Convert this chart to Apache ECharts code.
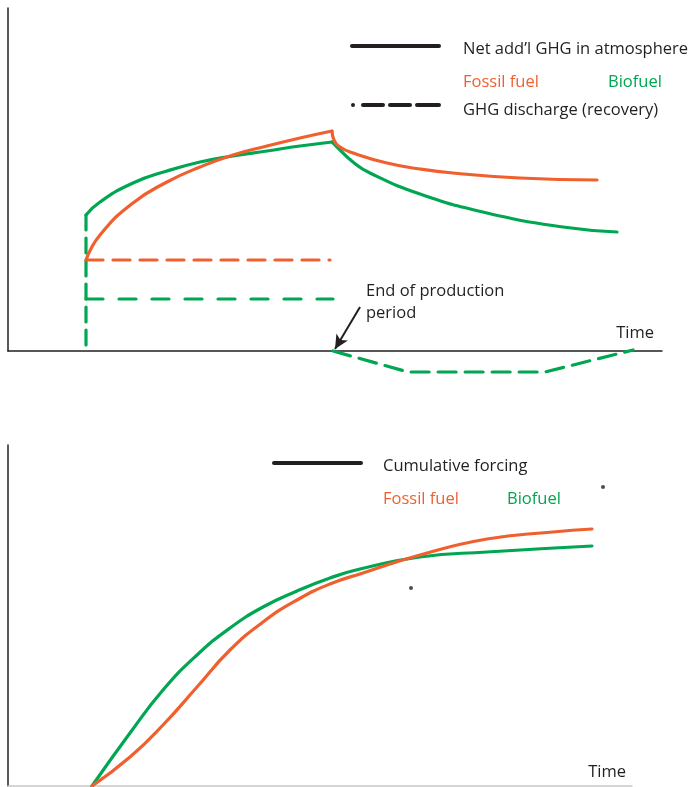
<!DOCTYPE html>
<html><head><meta charset="utf-8">
<script src="https://cdn.jsdelivr.net/npm/echarts@6/dist/echarts.min.js"></script>
<style>html,body{margin:0;padding:0;background:#fff}#c{width:689px;height:787px}</style>
</head><body><div id="c"></div>
<script>
// ---------- DATA (arbitrary units: x = time, y = amount) ----------
// Top panel: net additional GHG in atmosphere
const fossilNetRise  = [[78,91],[92,116],[125,148],[159,169],[192,184],[225,196],[259,205],[292,213],[324,220]];
const fossilNetDecay = [[324,220],[326,211],[332,204],[345,198],[379,188],[412,182],[445,178],[512,173],[589,171]];
const bioNetRise     = [[78,136],[92,149],[125,168],[159,180],[192,189],[225,195],[259,200],[292,205],[324,209]];
const bioNetDecay    = [[324,209],[329,204],[345,189],[362,178],[412,157],[479,138],[555,124],[609,119]];
// Top panel: GHG discharge (recovery)
const fossilDischarge = [[78,91],[322,91]];
const bioDischarge    = [[78,52],[325,52]];
const bioInitialPulse = [[78,136],[78,0]];
const bioRecovery     = [[325,0],[400,-21],[537,-21],[625,1]];
const endOfProduction = [[352,44],[327,2]];
// Bottom panel: cumulative forcing
const fossilCum = [[84,0],[122,29],[155,61],[189,99],[222,136],[255,164],[289,186],[322,202],[355,213],[412,231],[479,247],[545,254],[584,257]];
const bioCum    = [[84,0],[122,53],[155,96],[189,131],[222,158],[255,179],[289,195],[322,208],[352,217],[412,229],[479,234],[584,240]];
const strayDots = [[595,299],[403,198]];
// Text
const legendTop = ['Net add\u2019l GHG in atmosphere','Fossil fuel','Biofuel','GHG discharge (recovery)'];
const legendBottom = ['Cumulative forcing','Fossil fuel','Biofuel'];
const annotation = ['End of production','period'];
const axisName = 'Time';

// ---------- STYLE ----------
const ORANGE = '#F0602E', GREEN = '#00A651', INK = '#231F20';
const FONT = 'Open Sans';
const FS = 16.5;
const LW = 3.2;

const chart = echarts.init(document.getElementById('c'), null, {renderer:'canvas'});

function line(data, color, opts) {
  return Object.assign({
    type:'line', data, showSymbol:false, symbol:'none', silent:true, animation:false,
    lineStyle:{color, width:LW, cap:'round', join:'round'}
  }, opts||{});
}
const curve = (data, color, opts) => line(data, color, Object.assign({smooth:0.5}, opts||{}));

const txt = (x,y,t,color,align) => ({type:'text', x, y, silent:true,
  style:{text:t, fill:color||INK, font:FS+'px "'+FONT+'"', textVerticalAlign:'middle', textAlign:align||'left'}});

const option = {
  animation:false,
  backgroundColor:'#fff',
  grid:[
    {left:8, top:8, right:27, bottom:436},
    {left:8, top:445, right:57, bottom:1}
  ],
  xAxis:[
    {gridIndex:0, type:'value', min:0, max:654, axisLine:{lineStyle:{color:INK,width:1.5}}, axisTick:{show:false}, axisLabel:{show:false}, splitLine:{show:false}},
    {gridIndex:1, type:'value', min:0, max:624, axisLine:{lineStyle:{color:'#c8c8c8',width:1.5}}, axisTick:{show:false}, axisLabel:{show:false}, splitLine:{show:false}}
  ],
  yAxis:[
    {gridIndex:0, type:'value', min:0, max:343, axisLine:{show:true, lineStyle:{color:INK,width:1.5}}, axisTick:{show:false}, axisLabel:{show:false}, splitLine:{show:false}},
    {gridIndex:1, type:'value', min:0, max:341, axisLine:{show:true, lineStyle:{color:INK,width:1.5}}, axisTick:{show:false}, axisLabel:{show:false}, splitLine:{show:false}}
  ],
  series:[
    line(fossilDischarge, ORANGE, {lineStyle:{color:ORANGE,width:LW,type:[17,10],cap:'round'}}),
    line(bioDischarge, GREEN, {lineStyle:{color:GREEN,width:LW,type:[17,16],cap:'round'}}),
    line(bioInitialPulse, GREEN, {lineStyle:{color:GREEN,width:LW,type:[15,8],cap:'round'}}),
    line(bioRecovery, GREEN, {clip:false, lineStyle:{color:GREEN,width:LW,type:[18,9],cap:'round'}}),
    curve(bioNetRise, GREEN),
    curve(bioNetDecay, GREEN),
    curve(fossilNetRise, ORANGE),
    curve(fossilNetDecay, ORANGE),
    {type:'line', data:[], silent:true, markLine:{silent:true, animation:false, symbol:['none','arrow'], symbolSize:[10,14],
      label:{show:false}, lineStyle:{color:INK, width:2, type:'solid'},
      data:[[{coord:endOfProduction[0]},{coord:endOfProduction[1]}]]}},
    curve(bioCum, GREEN, {xAxisIndex:1, yAxisIndex:1}),
    curve(fossilCum, ORANGE, {xAxisIndex:1, yAxisIndex:1}),
    {type:'scatter', xAxisIndex:1, yAxisIndex:1, data:strayDots, symbolSize:4, itemStyle:{color:INK}, silent:true}
  ],
  graphic:[
    {type:'line', shape:{x1:352,y1:46,x2:439,y2:46}, style:{stroke:INK, lineWidth:4, lineCap:'round'}, silent:true},
    {type:'line', shape:{x1:353,y1:105,x2:439,y2:105}, style:{stroke:INK, lineWidth:4, lineCap:'round', lineDash:[0,10,20,7,20,7,20]}, silent:true},
    {type:'line', shape:{x1:274,y1:463,x2:361,y2:463}, style:{stroke:INK, lineWidth:4, lineCap:'round'}, silent:true},
    txt(463,49,legendTop[0]),
    txt(463,82,legendTop[1],ORANGE),
    txt(608,82,legendTop[2],GREEN),
    txt(463,110,legendTop[3]),
    txt(366,291,annotation[0]),
    txt(366,313,annotation[1]),
    txt(654,333,axisName,INK,'right'),
    txt(383,466,legendBottom[0]),
    txt(383,499,legendBottom[1],ORANGE),
    txt(507,499,legendBottom[2],GREEN),
    txt(626,772,axisName,INK,'right')
  ]
};
chart.setOption(option);
</script></body></html>
